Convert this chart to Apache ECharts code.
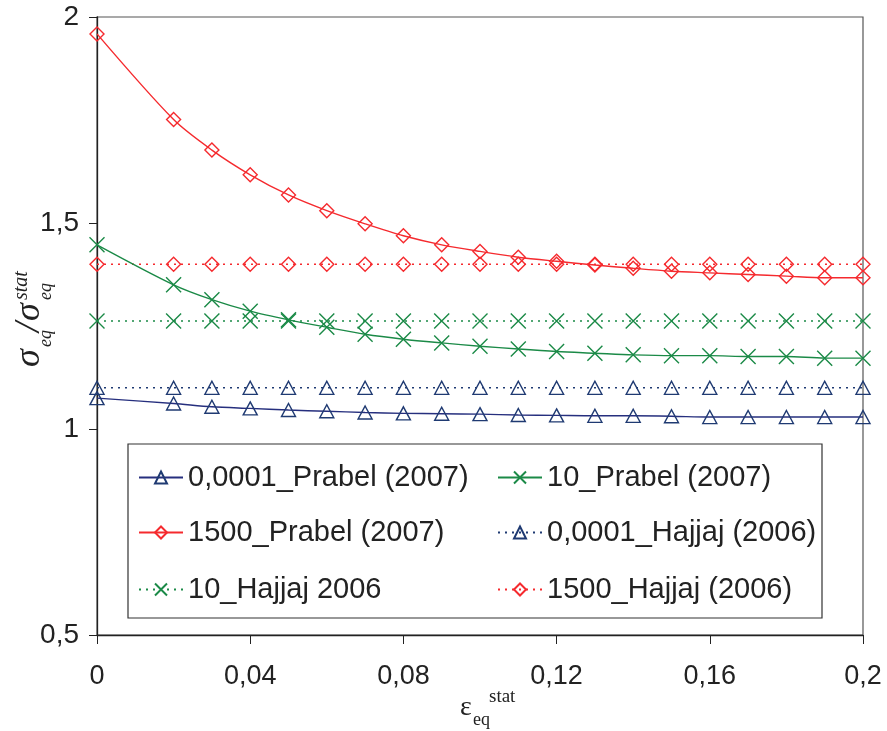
<!DOCTYPE html>
<html>
<head>
<meta charset="utf-8">
<script src="https://cdn.jsdelivr.net/npm/echarts@6/dist/echarts.min.js"></script>
<style>
html,body{margin:0;padding:0;background:#fff;}
#chart{width:887px;height:731px;}
</style>
</head>
<body>
<div id="chart"></div>
<script>
const xValues = [0, 0.02, 0.03, 0.04, 0.05, 0.06, 0.07, 0.08, 0.09, 0.10, 0.11, 0.12, 0.13, 0.14, 0.15, 0.16, 0.17, 0.18, 0.19, 0.20];
const prabel0001 = [1.075, 1.062, 1.054, 1.050, 1.046, 1.043, 1.040, 1.038, 1.037, 1.036, 1.034, 1.033, 1.032, 1.032, 1.031, 1.029, 1.029, 1.029, 1.029, 1.029];
const prabel10 = [1.447, 1.350, 1.314, 1.286, 1.265, 1.247, 1.230, 1.218, 1.209, 1.201, 1.194, 1.188, 1.184, 1.180, 1.178, 1.178, 1.176, 1.176, 1.172, 1.172];
const prabel1500 = [1.959, 1.751, 1.677, 1.617, 1.568, 1.530, 1.498, 1.469, 1.447, 1.431, 1.417, 1.407, 1.398, 1.390, 1.383, 1.379, 1.375, 1.371, 1.367, 1.367];
const hajjaj0001 = [1.1, 1.1, 1.1, 1.1, 1.1, 1.1, 1.1, 1.1, 1.1, 1.1, 1.1, 1.1, 1.1, 1.1, 1.1, 1.1, 1.1, 1.1, 1.1, 1.1];
const hajjaj10 = [1.262, 1.262, 1.262, 1.262, 1.262, 1.262, 1.262, 1.262, 1.262, 1.262, 1.262, 1.262, 1.262, 1.262, 1.262, 1.262, 1.262, 1.262, 1.262, 1.262];
const hajjaj1500 = [1.4, 1.4, 1.4, 1.4, 1.4, 1.4, 1.4, 1.4, 1.4, 1.4, 1.4, 1.4, 1.4, 1.4, 1.4, 1.4, 1.4, 1.4, 1.4, 1.4];
const seriesNames = ['0,0001_Prabel (2007)', '10_Prabel (2007)', '1500_Prabel (2007)', '0,0001_Hajjaj (2006)', '10_Hajjaj 2006', '1500_Hajjaj (2006)'];
const xTicks = {min: 0, max: 0.2, interval: 0.04};
const yTicks = {min: 0.5, max: 2, interval: 0.5};

const NAVY = '#1f3a72', NAVY_LINE = '#262f7e', GREEN = '#1b8a47', RED = '#f52a2e';
const CROSS = 'path://M0,0L10,10M10,0L0,10';

function pairs(ys) { return xValues.map((x, i) => [x, ys[i]]); }

function mk(name, ys, color, lineColor, symbol, size, dotted) {
  return {
    name: name, type: 'line', data: pairs(ys),
    smooth: dotted ? false : 0.3,
    symbol: symbol, symbolSize: size, showSymbol: true,
    itemStyle: {color: 'rgba(0,0,0,0)', borderColor: color, borderWidth: 1.4},
    lineStyle: {color: lineColor, width: dotted ? 1.5 : 1.4, type: dotted ? [2, 5] : 'solid'},
    emphasis: {disabled: true},
    animation: false
  };
}

const chart = echarts.init(document.getElementById('chart'), null, {renderer: 'canvas'});
const fmt = v => String(+v.toFixed(4)).replace('.', ',');

const legendBase = {
  orient: 'horizontal', itemWidth: 44, itemHeight: 15, itemGap: 0,
  textStyle: {fontSize: 29, fontFamily: 'Liberation Sans, Arial, sans-serif', color: '#222', padding: [0, 0, 0, 0]},
  selectedMode: false
};
const legendPos = [[133, 458], [492, 458], [133, 513], [492, 513], [133, 570], [492, 570]];

function ytxt(x, y, t, font) {
  return {type: 'text', x: x, y: y, rotation: Math.PI / 2,
    style: {text: t, font: font, fill: '#222', align: 'left', verticalAlign: 'middle', textAlign: 'left', textVerticalAlign: 'middle'}};
}
function xtxt(x, y, t, font) {
  return {type: 'text', x: x, y: y,
    style: {text: t, font: font, fill: '#222', align: 'left', verticalAlign: 'middle', textAlign: 'left', textVerticalAlign: 'middle'}};
}
const SIG = 'italic 36px "Liberation Serif", serif';
const SUB = 'italic 18px "Liberation Serif", serif';

const option = {
  backgroundColor: '#fff',
  animation: false,
  grid: {left: 97, right: 24, top: 17, bottom: 96, show: true, borderColor: '#555', borderWidth: 1.2, backgroundColor: 'transparent'},
  xAxis: {
    type: 'value', min: xTicks.min, max: xTicks.max, interval: xTicks.interval,
    axisLine: {show: true, lineStyle: {color: '#222', width: 1.3}},
    axisTick: {show: true, inside: false, length: 9, lineStyle: {color: '#222', width: 1}},
    axisLabel: {fontSize: 27, color: '#222', fontFamily: 'Liberation Sans, Arial, sans-serif', margin: 28, formatter: fmt},
    splitLine: {show: false}
  },
  yAxis: {
    type: 'value', min: yTicks.min, max: yTicks.max, interval: yTicks.interval,
    axisLine: {show: true, lineStyle: {color: '#222', width: 1.3}},
    axisTick: {show: true, inside: false, length: 8, lineStyle: {color: '#222', width: 1}},
    axisLabel: {fontSize: 28, color: '#222', fontFamily: 'Liberation Sans, Arial, sans-serif', margin: 18, formatter: fmt},
    splitLine: {show: false}
  },
  legend: seriesNames.map((n, i) => Object.assign({}, legendBase, {data: [n], left: legendPos[i][0], top: legendPos[i][1]})),
  graphic: [
    {type: 'rect', z: 1, shape: {x: 128, y: 444, width: 694, height: 174}, style: {fill: '#fff', stroke: '#333', lineWidth: 1.2}},
    // y axis title (rotated)
    ytxt(30, 367, 'σ', SIG),
    ytxt(46, 347, 'eq', SUB),
    ytxt(30, 332, '/', SIG),
    ytxt(30, 321, 'σ', SIG),
    ytxt(46, 300, 'eq', SUB),
    ytxt(22, 300, 'stat', 'italic 20px "Liberation Serif", serif'),
    // x axis title
    xtxt(460, 708, 'ε', '28px "Liberation Serif", serif'),
    xtxt(473, 720, 'eq', '18px "Liberation Serif", serif'),
    xtxt(489, 697, 'stat', '19px "Liberation Serif", serif')
  ],
  series: [
    mk(seriesNames[3], hajjaj0001, NAVY, NAVY, 'triangle', [14, 13], true),
    mk(seriesNames[4], hajjaj10, GREEN, GREEN, CROSS, 15, true),
    mk(seriesNames[5], hajjaj1500, RED, RED, 'diamond', 14, true),
    mk(seriesNames[0], prabel0001, NAVY, NAVY_LINE, 'triangle', [14, 13], false),
    mk(seriesNames[1], prabel10, GREEN, GREEN, CROSS, 15, false),
    mk(seriesNames[2], prabel1500, RED, RED, 'diamond', 14, false)
  ]
};
chart.setOption(option);
</script>
</body>
</html>
